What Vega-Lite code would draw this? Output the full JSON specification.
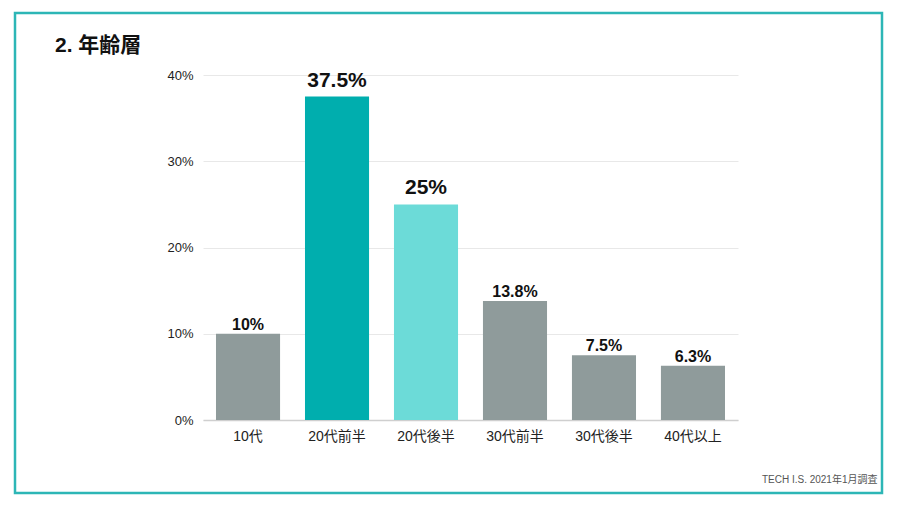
{
  "$schema": "https://vega.github.io/schema/vega-lite/v6.json",
  "autosize": {"type": "none"},
  "width": 867,
  "height": 480,
  "padding": {"left": 15, "top": 13, "right": 22, "bottom": 15},
  "background": "white",
  "config": {
    "view": {"stroke": "#2db6b6", "strokeWidth": 2.5},
    "font": "'Liberation Sans', 'Noto Sans CJK JP', sans-serif",
    "axis": {"labelFont": "'Liberation Sans', 'Noto Sans CJK JP', sans-serif"}
  },
  "title": {
    "text": "2. 年齢層",
    "anchor": "start",
    "frame": "group",
    "dx": 40,
    "offset": -60,
    "baseline": "alphabetic",
    "fontSize": 21,
    "fontWeight": "bold",
    "color": "#111111",
    "font": "'Liberation Sans', 'Noto Sans CJK JP', sans-serif"
  },
  "data": {
    "values": [
      {"age": "10代", "share": 0.1, "highlight": false},
      {"age": "20代前半", "share": 0.375, "highlight": true},
      {"age": "20代後半", "share": 0.25, "highlight": true},
      {"age": "30代前半", "share": 0.138, "highlight": false},
      {"age": "30代後半", "share": 0.075, "highlight": false},
      {"age": "40代以上", "share": 0.063, "highlight": false}
    ]
  },
  "encoding": {
    "x": {
      "field": "age",
      "type": "nominal",
      "sort": null,
      "scale": {"range": [188, 723], "paddingInner": 0.28, "paddingOuter": 0.146},
      "axis": {
        "offset": -73,
        "labelAngle": 0,
        "labelFontSize": 14,
        "labelColor": "#222222",
        "labelPadding": 9,
        "ticks": false,
        "domainColor": "#cfcfcf",
        "domainWidth": 1.5,
        "title": "TECH I.S. 2021年1月調査",
        "titleX": 862,
        "titleY": 62,
        "titleAlign": "right",
        "titleAnchor": null,
        "titleBaseline": "alphabetic",
        "titleFontSize": 10,
        "titleFontWeight": "normal",
        "titleColor": "#555555"
      }
    },
    "y": {
      "field": "share",
      "type": "quantitative",
      "scale": {"domain": [0, 0.4], "range": [407, 62], "nice": false},
      "axis": {
        "offset": -188,
        "values": [0, 0.1, 0.2, 0.3, 0.4],
        "format": ".0%",
        "domain": false,
        "ticks": false,
        "labelPadding": 10,
        "labelFontSize": 13,
        "labelColor": "#222222",
        "gridColor": "#e8e8e8",
        "title": null
      }
    }
  },
  "layer": [
    {
      "mark": {"type": "bar"},
      "encoding": {
        "color": {
          "field": "age",
          "type": "nominal",
          "scale": {
            "domain": ["10代", "20代前半", "20代後半", "30代前半", "30代後半", "40代以上"],
            "range": ["#8f9b9b", "#00aeae", "#6cdbd8", "#8f9b9b", "#8f9b9b", "#8f9b9b"]
          },
          "legend": null
        }
      }
    },
    {
      "transform": [{"filter": "datum.highlight"}],
      "mark": {"type": "text", "baseline": "alphabetic", "fontWeight": "bold", "color": "#111111", "fontSize": 21, "dy": -10},
      "encoding": {
        "text": {"field": "share", "type": "quantitative", "format": ".1~%"}
      }
    },
    {
      "transform": [{"filter": "!datum.highlight"}],
      "mark": {"type": "text", "baseline": "alphabetic", "fontWeight": "bold", "color": "#111111", "fontSize": 16, "dy": -4},
      "encoding": {
        "text": {"field": "share", "type": "quantitative", "format": ".1~%"}
      }
    }
  ]
}
